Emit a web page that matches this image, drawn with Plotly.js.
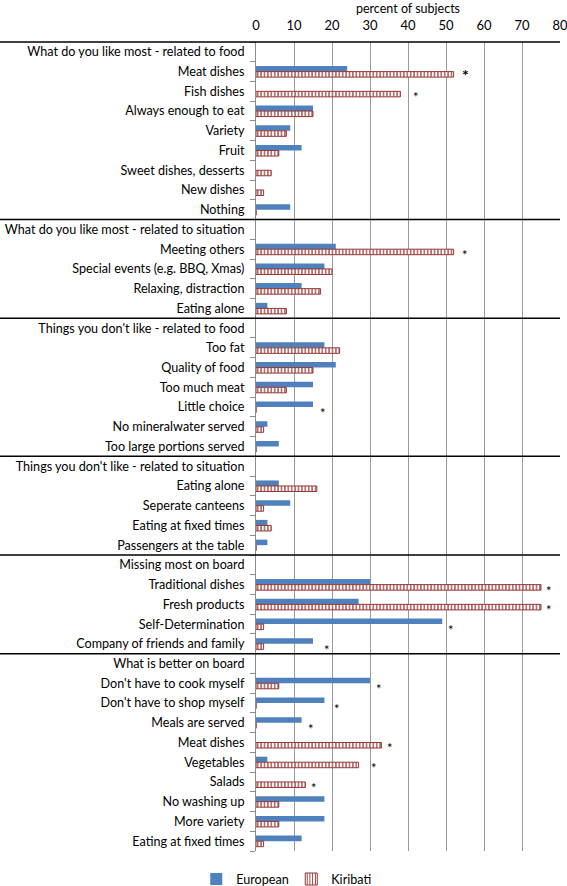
<!DOCTYPE html>
<html>
<head>
<meta charset="utf-8">
<script src="https://cdn.plot.ly/plotly-3.0.1.min.js"></script>
<style>html,body{margin:0;padding:0;background:#fff;}#chart{width:567px;height:886px;}</style>
</head>
<body>
<div id="chart"></div>
<script>
// Row labels (section headers have no bars)
const labels = [
  "What do you like most - related to food",
  "Meat dishes", "Fish dishes", "Always enough to eat", "Variety", "Fruit",
  "Sweet dishes, desserts", "New dishes", "Nothing",
  "What do you like most - related to situation",
  "Meeting others", "Special events (e.g. BBQ, Xmas)", "Relaxing, distraction", "Eating alone",
  "Things you don't like - related to food",
  "Too fat", "Quality of food", "Too much meat", "Little choice",
  "No mineralwater served", "Too large portions served",
  "Things you don't like - related to situation",
  "Eating alone", "Seperate canteens", "Eating at fixed times", "Passengers at the table",
  "Missing most on board",
  "Traditional dishes", "Fresh products", "Self-Determination", "Company of friends and family",
  "What is better on board",
  "Don't have to cook myself", "Don't have to shop myself", "Meals are served",
  "Meat dishes", "Vegetables", "Salads", "No washing up", "More variety", "Eating at fixed times"
];
// Section header rows
const headerRows = [0, 9, 14, 21, 26, 31];

// percent of subjects (null = header row)
const european = [
  null, 24, 0, 15, 9, 12, 0, 0, 9,
  null, 21, 18, 12, 3,
  null, 18, 21, 15, 15, 3, 6,
  null, 6, 9, 3, 3,
  null, 30, 27, 49, 15,
  null, 30, 18, 12, 0, 3, 0, 18, 18, 12
];
const kiribati = [
  null, 52, 38, 15, 8, 6, 4, 2, 0,
  null, 52, 20, 17, 8,
  null, 22, 15, 8, 0, 2, 0,
  null, 16, 2, 4, 0,
  null, 75, 75, 2, 2,
  null, 6, 0, 0, 33, 27, 13, 6, 6, 2
];

// significance markers: row index, x position (percent), bold
const starRows = [1, 2, 10, 18, 27, 28, 29, 30, 32, 33, 34, 35, 36, 37];
const starX    = [55, 42, 55, 17.7, 77, 77.2, 51.4, 18.8, 32.4, 21.3, 14.4, 35.2, 31, 15.2];
const starBold = [true, false, false, false, false, false, false, false, false, false, false, false, false, false];

const xTicks = [0, 10, 20, 30, 40, 50, 60, 70, 80];

const rowIdx = labels.map((_, i) => i);
const FONT = "Lato, 'DejaVu Sans', sans-serif";
const FS = 12.6;

const traces = [
  {
    type: 'bar', orientation: 'h', name: 'European',
    y: rowIdx, x: european,
    marker: {color: '#4F81BD', line: {color: '#4F81BD', width: 0}},
    hoverinfo: 'x+name'
  },
  {
    type: 'bar', orientation: 'h', name: 'Kiribati',
    y: rowIdx, x: kiribati,
    marker: {
      color: '#ffffff',
      line: {color: '#953735', width: 1},
      pattern: {shape: '|', fgcolor: '#953735', bgcolor: '#ffffff', size: 3.4, solidity: 0.35}
    },
    hoverinfo: 'x+name'
  }
];

const shapes = [];
// top axis line extending across the label column
shapes.push({type: 'line', xref: 'paper', yref: 'paper', x0: -1, x1: 1, y0: 1, y1: 1,
  line: {color: '#000', width: 1.5}});
// section separators
headerRows.slice(1).forEach(r => {
  shapes.push({type: 'line', xref: 'paper', yref: 'y', x0: -1, x1: 1, y0: r - 0.5, y1: r - 0.5,
    line: {color: '#000', width: 1.5}});
});

const annotations = starRows.map((r, i) => ({
  x: starX[i], y: r, xref: 'x', yref: 'y', text: starBold[i] ? '<b>*</b>' : '*',
  showarrow: false, yshift: starBold[i] ? -3 : -6,
  font: {family: FONT, size: starBold[i] ? 16 : 13, color: '#000'}
}));

const layout = {
  width: 567, height: 886,
  margin: {l: 256, r: 7, t: 42, b: 35, pad: 0, autoexpand: false},
  paper_bgcolor: '#fff', plot_bgcolor: '#fff',
  font: {family: FONT, size: FS, color: '#000'},
  barmode: 'group', bargap: 0.44, bargroupgap: 0,
  showlegend: true,
  legend: {orientation: 'h', x: 0.116, xanchor: 'center', y: -0.035, yanchor: 'middle',
    itemwidth: 30, entrywidth: 50,
    font: {family: FONT, size: FS, color: '#000'}, traceorder: 'normal'},
  xaxis: {
    side: 'top', range: [0, 80], tickvals: xTicks, ticktext: xTicks.map(String),
    showgrid: true, gridcolor: '#9a9a9a', gridwidth: 1,
    zeroline: false, showline: false,
    ticks: 'outside', ticklen: 6, tickcolor: 'rgba(0,0,0,0)',
    ticklabeloverflow: 'allow',
    tickfont: {family: FONT, size: 13, color: '#000'},
    title: {text: 'percent of subjects', font: {family: FONT, size: 12.5, color: '#000'}, standoff: 0},
    fixedrange: true
  },
  yaxis: {
    range: [labels.length - 0.5, -0.5], tickmode: 'array', tickvals: rowIdx, ticktext: labels,
    ticks: '', showgrid: false, zeroline: false,
    showline: true, linecolor: '#8c8c8c', linewidth: 1,
    minor: {tickmode: 'linear', tick0: 0.5, dtick: 1, ticks: 'outside', ticklen: 5, tickcolor: '#8c8c8c', showgrid: false},
    tickfont: {family: FONT, size: FS, color: '#000'},
    ticklabelstandoff: 8,
    fixedrange: true
  },
  shapes: shapes,
  annotations: annotations
};

Plotly.newPlot('chart', traces, layout, {displayModeBar: false, staticPlot: true});
</script>
</body>
</html>
